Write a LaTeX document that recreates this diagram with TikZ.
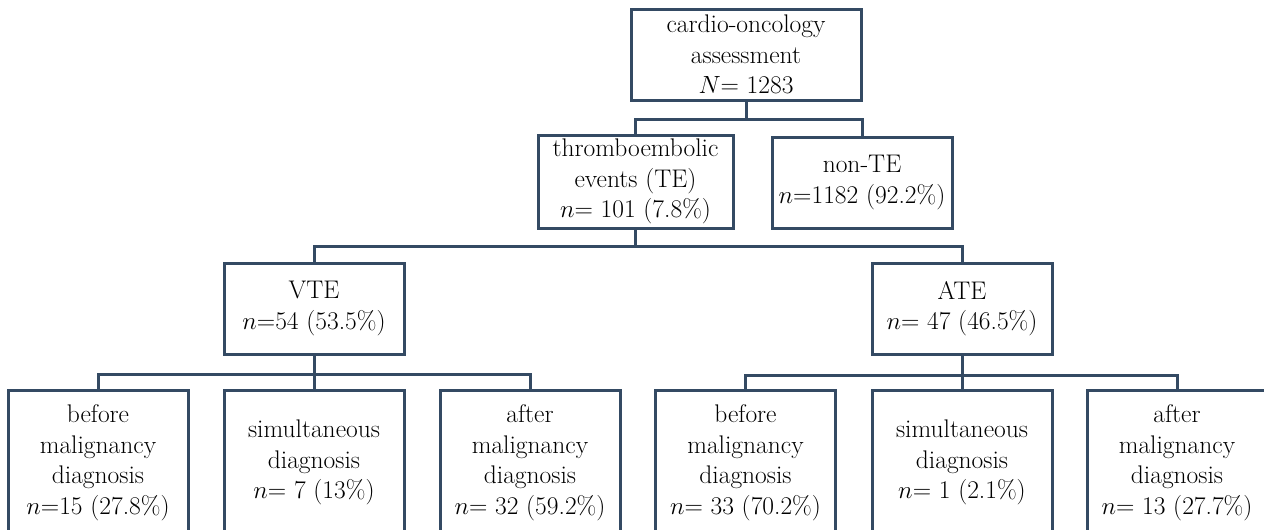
\documentclass[tikz,border=0pt]{standalone}
\usepackage{xcolor}
\usetikzlibrary{positioning}
\definecolor{slate}{RGB}{52,74,99}

\begin{document}
\begin{tikzpicture}[x=1pt, y=-1pt,
  box/.style={draw=slate, line width=3pt, fill=white, align=center, inner sep=0pt,
    font=\fontsize{25.5}{30.5}\selectfont},
  kid/.style={box, minimum width=180, minimum height=145},
  link/.style={draw=slate, line width=3pt}]
\useasboundingbox (0,0) rectangle (1264,530);
\clip (0,0) rectangle (1264,530);
% top levels
\node[box, minimum width=230, minimum height=91] (root) at (746,54.5) {cardio-oncology\\assessment\\$N$= 1283};
\node[box, minimum width=195, minimum height=93] (te) at (635.5,181.5) {thromboembolic\\events (TE)\\$n$= 101 (7.8\%)};
\node[box, minimum width=180, minimum height=91] (nonte) at (862,182.5) {non-TE\\$n$=1182 (92.2\%)};
\node[box, minimum width=180, minimum height=91] (vte) at (314,308.5) {VTE\\$n$=54 (53.5\%)};
\node[box, minimum width=180, minimum height=91] (ate) at (962,308.5) {ATE\\$n$= 47 (46.5\%)};
% bottom row
\node[kid] (vbefore) at (98,462.5) {before\\malignancy\\diagnosis\\$n$=15 (27.8\%)};
\node[kid] (vsim) at (314,462.5) {simultaneous\\diagnosis\\$n$= 7 (13\%)};
\node[kid] (vafter) at (530,462.5) {after\\malignancy\\diagnosis\\$n$= 32 (59.2\%)};
\node[kid] (abefore) at (745.5,462.5) {before\\malignancy\\diagnosis\\$n$= 33 (70.2\%)};
\node[kid] (asim) at (962,462.5) {simultaneous\\diagnosis\\$n$= 1 (2.1\%)};
\node[kid] (aafter) at (1177,462.5) {after\\malignancy\\diagnosis\\$n$= 13 (27.7\%)};
% connectors
\draw[link] (root.south) -- ++(0,18) -| (te.north);
\draw[link] (root.south) -- ++(0,18) -| (nonte.north);
\draw[link] (te.south) -- ++(0,17) -| (vte.north);
\draw[link] (te.south) -- ++(0,17) -| (ate.north);
\draw[link] (vte.south) -- ++(0,19) -| (vbefore.north);
\draw[link] (vte.south) -- (vsim.north);
\draw[link] (vte.south) -- ++(0,19) -| (vafter.north);
\draw[link] (ate.south) -- ++(0,20) -| (abefore.north);
\draw[link] (ate.south) -- (asim.north);
\draw[link] (ate.south) -- ++(0,20) -| (aafter.north);
\end{tikzpicture}
\end{document}
